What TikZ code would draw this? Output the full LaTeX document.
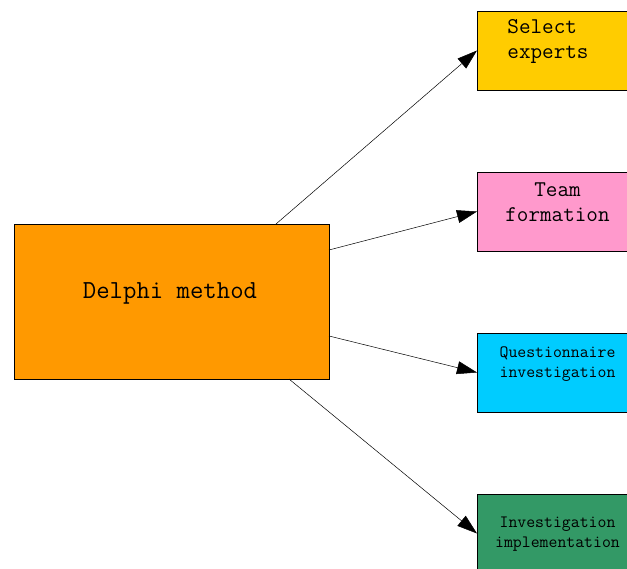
\documentclass[tikz,border=0pt]{standalone}
\usetikzlibrary{arrows.meta}
\definecolor{cmain}{HTML}{FF9900}
\definecolor{cone}{HTML}{FFCC00}
\definecolor{ctwo}{HTML}{FF99CC}
\definecolor{cthree}{HTML}{00CCFF}
\definecolor{cfour}{HTML}{339966}
\begin{document}
\begin{tikzpicture}[x=1pt,y=-1pt,
  box/.style={draw=black,line width=0.6pt,inner sep=0pt,outer sep=0pt,anchor=north west},
  bigtxt/.style={font=\fontsize{22.5}{25}\selectfont\ttfamily,align=center,inner sep=0pt},
  smalltxt/.style={font=\fontsize{17.3}{19.5}\selectfont\ttfamily,align=center,inner sep=0pt},
  conn/.style={draw=black,line width=0.5pt,-{Triangle[length=20pt,width=13pt]}}]
\useasboundingbox (0,0) rectangle (627,569);
\clip (0,0) rectangle (627,569);
\fill[white] (0,0) rectangle (627,569);
% main box
\node[box,fill=cmain,minimum width=315pt,minimum height=155pt] (main) at (14,224) {};
\node[font=\fontsize{26}{28}\selectfont\ttfamily,inner sep=0pt] (maintxt) at (170,293) {Delphi method};
% right boxes
\node[box,fill=cone,minimum width=170pt,minimum height=79pt] (b1) at (477,11) {};
\node[box,fill=ctwo,minimum width=170pt,minimum height=79pt] (b2) at (477,172) {};
\node[box,fill=cthree,minimum width=170pt,minimum height=79pt] (b3) at (477,333) {};
\node[box,fill=cfour,minimum width=170pt,minimum height=79pt] (b4) at (477,494) {};
\node[bigtxt,align=left] (t1) at (548,41) {Select\\experts};
\node[bigtxt] (t2) at (557.5,202) {Team\\formation};
\node[smalltxt] (t3) at (557.5,364) {Questionnaire\\investigation};
\node[smalltxt] (t4) at (557.5,534) {Investigation\\implementation};
% connector start points on the main box
\coordinate (s1) at (276,224);
\coordinate (s2) at (329,250);
\coordinate (s3) at (329,336);
\coordinate (s4) at (289,379);
\draw[conn] (s1) -- (b1.west);
\draw[conn] (s2) -- (b2.west);
\draw[conn] (s3) -- (b3.west);
\draw[conn] (s4) -- (b4.west);
\end{tikzpicture}
\end{document}
